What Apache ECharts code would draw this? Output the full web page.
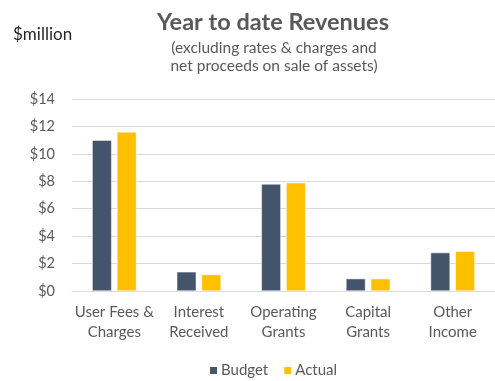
<!DOCTYPE html>
<html>
<head>
<meta charset="utf-8">
<script src="https://cdn.jsdelivr.net/npm/echarts@6/dist/echarts.min.js"></script>
<style>
  html, body { margin: 0; padding: 0; background: #fff; }
  #chart { width: 495px; height: 381px; }
</style>
</head>
<body>
<div id="chart"></div>
<script>
// Revenue categories and year-to-date figures ($ million)
const categories = ['User Fees &\nCharges', 'Interest\nReceived', 'Operating\nGrants', 'Capital\nGrants', 'Other\nIncome'];
const budget = [11.0, 1.4, 7.8, 0.9, 2.8];
const actual = [11.6, 1.2, 7.9, 0.9, 2.9];
const yTicks = [0, 2, 4, 6, 8, 10, 12, 14];

const FONT = 'Lato';
const GREY = '#595959';

const chart = echarts.init(document.getElementById('chart'), null, { renderer: 'canvas' });
chart.setOption({
  backgroundColor: '#fff',
  animation: false,
  textStyle: { fontFamily: FONT },
  title: [
    {
      text: 'Year to date Revenues',
      left: 268, top: 5, textAlign: 'center',
      textStyle: { fontFamily: FONT, fontSize: 23.5, fontWeight: 'bold', color: GREY }
    },
    {
      text: '(excluding rates & charges and\nnet proceeds on sale of assets)',
      left: 269, top: 34, textAlign: 'center',
      textStyle: { fontFamily: FONT, fontSize: 15.5, fontWeight: 'normal', color: GREY, lineHeight: 18, align: 'center' }
    },
    {
      text: '$million',
      left: 8, top: 21,
      textStyle: { fontFamily: FONT, fontSize: 17, fontWeight: 'normal', color: '#262626' }
    }
  ],
  legend: {
    top: 358, left: 203,
    itemWidth: 9, itemHeight: 9, itemGap: 14,
    icon: 'rect',
    textStyle: { fontFamily: FONT, fontSize: 15, color: GREY, padding: [0, 0, 0, -2] },
    data: ['Budget', 'Actual']
  },
  grid: { left: 72, top: 99, width: 429, height: 192, containLabel: false },
  xAxis: {
    type: 'category',
    data: categories,
    axisLine: { show: true, lineStyle: { color: '#d9d9d9', width: 1 } },
    axisTick: { show: false },
    axisLabel: { fontFamily: FONT, fontSize: 15, color: GREY, lineHeight: 20, margin: 11, interval: 0 }
  },
  yAxis: {
    type: 'value',
    min: 0, max: 14, interval: 2,
    axisLine: { show: false },
    axisTick: { show: false },
    splitLine: { lineStyle: { color: '#d9d9d9', width: 1 } },
    axisLabel: {
      fontFamily: FONT, fontSize: 14.5, color: GREY, margin: 17,
      formatter: v => yTicks.includes(v) ? '$' + v : ''
    }
  },
  series: [
    {
      name: 'Budget', type: 'bar', data: budget,
      barWidth: 19.5, barGap: '27%',
      itemStyle: { color: '#44546A', borderColor: '#ffffff', borderWidth: 0.5 }
    },
    {
      name: 'Actual', type: 'bar', data: actual,
      barWidth: 19.5,
      itemStyle: { color: '#FFC000', borderColor: '#ffffff', borderWidth: 0.5 }
    }
  ]
});
</script>
</body>
</html>
